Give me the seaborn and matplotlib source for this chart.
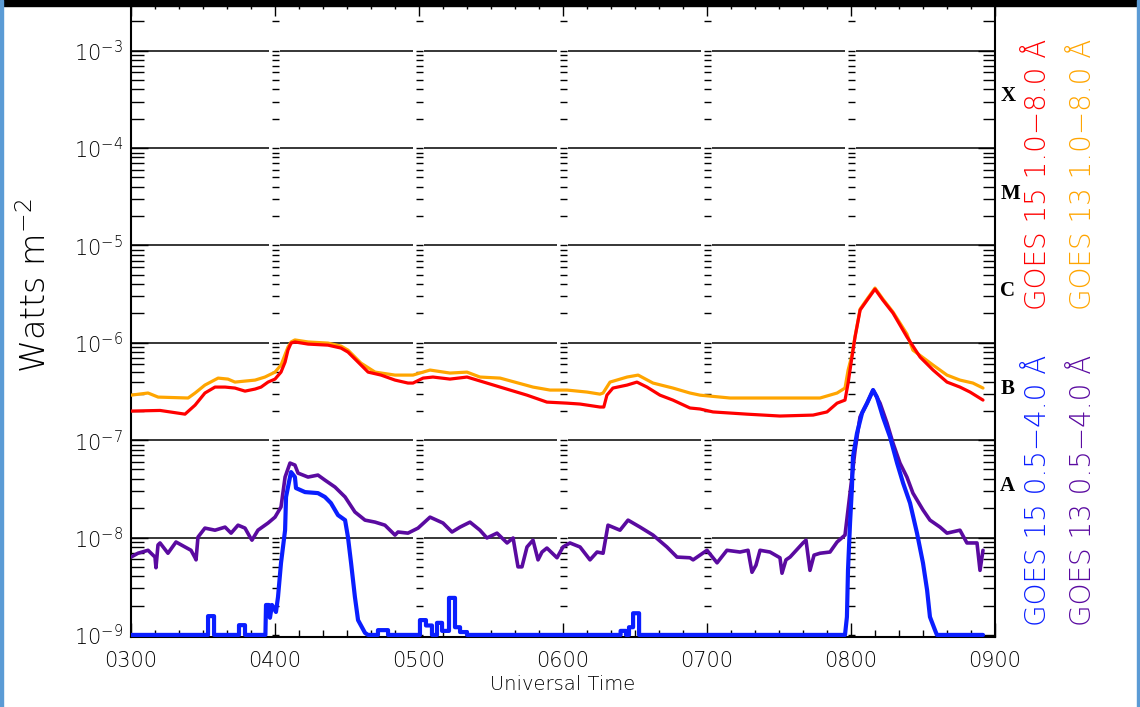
import numpy as np
import pandas as pd
import matplotlib
matplotlib.use("Agg")
import matplotlib.pyplot as plt
import matplotlib.transforms as mtransforms
from matplotlib.patches import Rectangle
from matplotlib.ticker import FuncFormatter, MultipleLocator, FixedLocator
import seaborn as sns

# ---------------- data (time = minutes after 03:00 UT, flux in W m^-2) ----------------
t_g15_long = [0, 12.1, 22.5, 26.7, 30.8, 35.0, 39.2, 43.3, 47.5, 51.7, 54.2, 57.1, 60.0, 62.5, 64.2,
              65.4, 66.7, 68.3, 73.8, 82.1, 87.5, 90.4, 94.6, 98.8, 104.2, 110.0, 115.4, 117.5, 121.7,
              125.8, 132.9, 140.0, 144.2, 153.8, 165.0, 173.3, 181.7, 187.1, 195.4, 197.0, 198.3, 200.8,
              206.7, 210.8, 215.0, 220.4, 225.8, 232.9, 237.1, 242.5, 256.7, 270.4, 284.2, 290.0, 294.2,
              297.5, 298.8, 300.4, 301.7, 303.8, 306.7, 310.0, 313.3, 317.5, 323.3, 328.8, 334.2, 340.0,
              345.4, 349.6, 355.0]
f_g15_long = [1.99e-7, 2.02e-7, 1.85e-7, 2.29e-7, 3.05e-7, 3.51e-7, 3.51e-7, 3.43e-7, 3.19e-7, 3.35e-7,
              3.51e-7, 3.95e-7, 4.24e-7, 5.0e-7, 6.34e-7, 8.41e-7, 9.93e-7, 1.02e-6, 9.7e-7, 9.46e-7,
              8.83e-7, 8.03e-7, 6.34e-7, 5.0e-7, 4.66e-7, 4.14e-7, 3.86e-7, 3.86e-7, 4.34e-7, 4.45e-7,
              4.24e-7, 4.45e-7, 4.14e-7, 3.51e-7, 2.90e-7, 2.46e-7, 2.40e-7, 2.35e-7, 2.19e-7, 2.19e-7,
              2.90e-7, 3.43e-7, 3.68e-7, 3.95e-7, 3.51e-7, 2.90e-7, 2.58e-7, 2.14e-7, 2.09e-7, 1.95e-7,
              1.85e-7, 1.77e-7, 1.81e-7, 1.95e-7, 2.40e-7, 2.58e-7, 3.86e-7, 7.13e-7, 1.15e-6, 2.17e-6,
              2.74e-6, 3.56e-6, 2.74e-6, 2.02e-6, 1.15e-6, 7.13e-7, 5.25e-7, 3.95e-7, 3.51e-7, 3.12e-7,
              2.58e-7]

t_g13_long = [0, 7.1, 11.3, 23.8, 26.7, 30.8, 36.3, 40.4, 43.3, 51.7, 55.8, 60.0, 62.5, 65.4, 66.7,
              68.3, 73.8, 82.1, 87.5, 90.4, 95.8, 101.7, 110.0, 117.5, 124.6, 132.9, 140.0, 145.4, 153.8,
              167.5, 174.6, 181.7, 190.0, 195.4, 196.7, 199.6, 206.7, 211.3, 217.5, 225.8, 232.9, 237.1,
              249.6, 263.3, 277.5, 287.1, 294.2, 297.5, 298.8, 300.4, 301.7, 303.8, 306.7, 310.0, 313.3,
              317.5, 323.3, 325.8, 334.2, 340.0, 345.4, 350.8, 355.0]
f_g13_long = [2.90e-7, 3.05e-7, 2.77e-7, 2.71e-7, 3.05e-7, 3.68e-7, 4.34e-7, 4.24e-7, 3.95e-7, 4.14e-7,
              4.45e-7, 5.0e-7, 5.90e-7, 9.03e-7, 1.02e-6, 1.07e-6, 1.02e-6, 9.93e-7, 9.25e-7, 8.41e-7,
              6.19e-7, 5.0e-7, 4.66e-7, 4.66e-7, 5.25e-7, 4.89e-7, 5.0e-7, 4.45e-7, 4.34e-7, 3.51e-7,
              3.27e-7, 3.27e-7, 3.12e-7, 2.97e-7, 3.05e-7, 3.95e-7, 4.45e-7, 4.66e-7, 3.86e-7, 3.43e-7,
              3.05e-7, 2.90e-7, 2.71e-7, 2.71e-7, 2.71e-7, 2.71e-7, 3.05e-7, 3.43e-7, 5.25e-7, 7.48e-7,
              1.17e-6, 2.22e-6, 2.81e-6, 3.65e-6, 2.81e-6, 2.07e-6, 1.23e-6, 8.41e-7, 5.90e-7, 4.66e-7,
              4.14e-7, 3.86e-7, 3.43e-7]

t_g15_short = [0, 32.1, 32.1, 34.6, 34.6, 45.0, 45.0, 47.5, 47.5, 56.0, 56.25, 57.5, 57.9, 58.75, 60.4,
               61.25, 62.5, 64.2, 64.6, 66.25, 66.7, 68.3, 68.75, 72.5, 77.9, 80.8, 83.3, 86.25, 89.2,
               90.4, 91.7, 93.3, 94.6, 97.5, 98.75, 102.9, 102.9, 107.1, 107.1, 120.4, 120.4, 122.9,
               122.9, 125.4, 125.4, 127.5, 127.5, 129.6, 129.6, 132.5, 132.5, 135.0, 135.0, 137.1, 137.1,
               140.0, 140.0, 204.0, 204.0, 206.25, 206.25, 207.5, 207.5, 209.2, 209.2, 211.7, 211.7,
               297.5, 298.3, 298.75, 299.6, 300.4, 300.8, 302.5, 304.6, 306.7, 309.2, 310.8, 313.3,
               316.25, 319.2, 321.7, 324.6, 327.5, 330.0, 331.7, 332.9, 335.0, 335.8, 355.0]
f_g15_short = [1e-9, 1e-9, 1.56e-9, 1.56e-9, 1e-9, 1e-9, 1.26e-9, 1.26e-9, 1e-9, 1e-9, 2.03e-9, 2.03e-9,
               1.5e-9, 2.03e-9, 1.72e-9, 2.45e-9, 5.47e-9, 1.19e-8, 2.61e-8, 4.18e-8, 4.70e-8, 4.18e-8,
               3.22e-8, 2.93e-8, 2.86e-8, 2.61e-8, 2.26e-8, 1.70e-8, 1.51e-8, 1.01e-8, 5.47e-9, 2.45e-9,
               1.42e-9, 1.05e-9, 1e-9, 1e-9, 1.12e-9, 1.12e-9, 1e-9, 1e-9, 1.42e-9, 1.42e-9, 1.25e-9,
               1.25e-9, 1e-9, 1e-9, 1.33e-9, 1.33e-9, 1.1e-9, 1.1e-9, 2.4e-9, 2.4e-9, 1.2e-9, 1.2e-9,
               1.07e-9, 1.07e-9, 1e-9, 1e-9, 1.1e-9, 1.1e-9, 1e-9, 1e-9, 1.2e-9, 1.2e-9, 1.67e-9, 1.67e-9,
               1e-9, 1e-9, 1.53e-9, 4.64e-9, 1.41e-8, 3.30e-8, 6.70e-8, 1.18e-7, 1.90e-7, 2.40e-7,
               3.27e-7, 2.77e-7, 1.73e-7, 1.08e-7, 5.82e-8, 3.63e-8, 2.26e-8, 1.11e-8, 5.47e-9, 2.89e-9,
               1.53e-9, 1.12e-9, 1e-9, 1e-9]

t_g13_short = [0, 2.9, 7.1, 10.0, 10.4, 11.25, 12.1, 15.4, 18.75, 22.5,
               25.0, 26.7, 27.1, 27.9, 30.8, 35.0, 39.2, 41.7, 44.6, 47.5,
               49.6, 50.4, 52.9, 57.1, 60.0, 62.5, 64.2, 66.25, 68.3, 69.6,
               73.75, 77.9, 80.8, 85.0, 89.2, 93.3, 97.5, 101.7, 105.8, 110.0,
               111.25, 115.4, 119.6, 124.6, 130.0, 133.75, 137.1, 141.25, 145.4, 148.3,
               152.5, 156.7, 159.2, 161.25, 162.9, 165.0, 167.5, 169.6, 171.25, 173.3,
               177.5, 180.0, 182.9, 187.1, 191.25, 194.2, 196.7, 198.75, 203.75, 207.1,
               212.1, 217.5, 223.3, 227.5, 232.9, 234.2, 240.0, 244.2, 248.3, 253.75,
               257.1, 258.75, 260.4, 262.1, 266.25, 270.4, 271.25, 272.9, 274.6, 280.0,
               281.25, 282.9, 284.6, 287.1, 291.25, 294.2, 297.5, 298.75, 300.4, 301.7,
               303.75, 306.7, 309.2, 312.1, 315.0, 317.5, 320.4, 323.3, 325.8, 330.0,
               332.9, 337.1, 340.0, 345.4, 348.3, 352.5, 353.75, 355.0]
f_g13_short = [6.3e-9, 6.9e-9, 7.4e-9, 6.3e-9, 4.9e-9, 8.4e-9, 8.8e-9, 6.9e-9, 9.0e-9, 8.0e-9,
               7.4e-9, 6.2e-9, 5.9e-9, 1.01e-8, 1.25e-8, 1.19e-8, 1.28e-8, 1.11e-8, 1.34e-8, 1.25e-8,
               1.01e-8, 9.4e-9, 1.19e-8, 1.41e-8, 1.62e-8, 2.06e-8, 4.18e-8, 5.82e-8, 5.55e-8, 4.59e-8,
               4.18e-8, 4.38e-8, 3.89e-8, 3.30e-8, 2.61e-8, 1.83e-8, 1.51e-8, 1.44e-8, 1.34e-8, 1.06e-8,
               1.14e-8, 1.11e-8, 1.25e-8, 1.62e-8, 1.41e-8, 1.14e-8, 1.28e-8, 1.44e-8, 1.19e-8, 9.9e-9,
               1.11e-8, 8.8e-9, 9.9e-9, 5.0e-9, 5.0e-9, 8.0e-9, 9.4e-9, 5.9e-9, 7.1e-9, 7.8e-9,
               6.2e-9, 8.0e-9, 8.8e-9, 8.0e-9, 5.9e-9, 7.1e-9, 6.9e-9, 1.34e-8, 1.19e-8, 1.51e-8,
               1.28e-8, 1.06e-8, 8.0e-9, 6.3e-9, 6.2e-9, 5.9e-9, 7.4e-9, 5.5e-9, 7.4e-9, 7.1e-9,
               7.4e-9, 4.4e-9, 5.2e-9, 7.4e-9, 7.1e-9, 6.2e-9, 4.3e-9, 5.9e-9, 6.3e-9, 8.8e-9,
               9.4e-9, 4.6e-9, 6.6e-9, 6.9e-9, 7.1e-9, 9.0e-9, 1.06e-8, 1.92e-8, 4.18e-8, 7.91e-8,
               1.73e-7, 2.40e-7, 3.27e-7, 2.40e-7, 1.50e-7, 9.33e-8, 5.82e-8, 4.18e-8, 2.86e-8, 1.92e-8,
               1.51e-8, 1.28e-8, 1.11e-8, 1.19e-8, 8.8e-9, 8.8e-9, 4.6e-9, 7.4e-9]

series_labels = ["GOES 15 1.0\u22128.0 \u00c5", "GOES 13 1.0\u22128.0 \u00c5",
                 "GOES 15 0.5\u22124.0 \u00c5", "GOES 13 0.5\u22124.0 \u00c5"]
series_colors = ["#ff0000", "#ffa500", "#0a1eff", "#5a0aa0"]

hour_ticks = [3, 4, 5, 6, 7, 8, 9]
hour_labels = ["0300", "0400", "0500", "0600", "0700", "0800", "0900"]
class_names = ["A", "B", "C", "M", "X"]
class_lower = [1e-8, 1e-7, 1e-6, 1e-5, 1e-4]

# ---------------- build frame ----------------
frames = []
for name, t, f in [(series_labels[0], t_g15_long, f_g15_long),
                   (series_labels[1], t_g13_long, f_g13_long),
                   (series_labels[2], t_g15_short, f_g15_short),
                   (series_labels[3], t_g13_short, f_g13_short)]:
    frames.append(pd.DataFrame({"series": name, "hour": 3 + np.asarray(t, float) / 60.0,
                                "flux": np.asarray(f, float)}))
df = pd.concat(frames, ignore_index=True)

sns.set_style("white")
plt.rcParams["font.family"] = ["DejaVu Sans"]
plt.rcParams["font.weight"] = "light"
plt.rcParams["text.color"] = "black"
plt.rcParams["axes.labelcolor"] = "black"
plt.rcParams["xtick.color"] = "black"
plt.rcParams["ytick.color"] = "black"
plt.rcParams["mathtext.fontset"] = "custom"
plt.rcParams["mathtext.rm"] = "DejaVu Sans:light"
plt.rcParams["mathtext.it"] = "DejaVu Sans:light"
plt.rcParams["mathtext.default"] = "rm"

W, H = 1140, 707
fig = plt.figure(figsize=(W / 100, H / 100), dpi=100)
ax = fig.add_axes([131 / W, 70 / H, 864 / W, 635 / H])

ymin, ymax = 0.952e-9, 10 ** -2.5
ax.set_yscale("log")
ax.set_xlim(3, 9)
ax.set_ylim(ymin, ymax)

# gridlines at decades, broken at each hour
decades = [1e-8, 1e-7, 1e-6, 1e-5, 1e-4, 1e-3]
for h in range(3, 9):
    x0 = h + (0.035 if h > 3 else 0)
    x1 = h + 1 - (0.042 if h + 1 < 9 else 0)
    ax.hlines(decades, x0, x1, colors="black", lw=1.1, zorder=1)

# tick dashes at each interior hour
major_vals = [10.0 ** k for k in range(-9, -2)]
minor_vals = [m * 10.0 ** k for k in range(-9, -2) for m in range(2, 10)]
minor_vals = [v for v in minor_vals if ymin <= v <= ymax]
for h in range(4, 9):
    ax.hlines(major_vals + minor_vals, h - 0.023, h + 0.030, colors="black", lw=1.0, zorder=1)

# data lines (drawing order: orange, red, purple, blue)
widths = [2.3, 2.3, 3.0, 2.6]
for idx in [1, 0, 3, 2]:
    name = series_labels[idx]
    sub = df[df["series"] == name].reset_index(drop=True)
    sns.lineplot(data=sub, x="hour", y="flux", ax=ax, color=series_colors[idx],
                 lw=widths[idx], estimator=None, sort=False, legend=False, zorder=3)

# axes ticks
ax.xaxis.set_major_locator(FixedLocator(hour_ticks))
ax.set_xticklabels(hour_labels)
ax.xaxis.set_minor_locator(MultipleLocator(1 / 6))
ax.yaxis.set_major_locator(FixedLocator(major_vals))
ax.yaxis.set_minor_locator(FixedLocator(minor_vals))
ax.yaxis.set_major_formatter(FuncFormatter(lambda v, p: r"$10^{%d}$" % int(round(np.log10(v)))))
ax.tick_params(axis="y", which="both", direction="in", left=True, right=True, labelsize=15,
               pad=6, width=1.0, colors="black", labelcolor="black")
ax.tick_params(axis="y", which="major", length=12)
ax.tick_params(axis="y", which="minor", length=9)
ax.tick_params(axis="x", which="both", direction="in", bottom=True, top=True, labelsize=15,
               pad=10, width=1.0, colors="black", labelcolor="black")
ax.tick_params(axis="x", which="major", length=10)
ax.tick_params(axis="x", which="minor", length=5)
for s in ax.spines.values():
    s.set_color("black")
    s.set_linewidth(1.5)

ax.set_xlabel("Universal Time", fontsize=14, labelpad=3, fontweight="light", color="black")
ax.set_ylabel("Watts m$^{-2}$", fontsize=24, va="center", ha="center", fontweight="light",
              color="black")
ax.yaxis.set_label_coords(-0.110, 0.553)

# flare classes on the right
trans = mtransforms.blended_transform_factory(ax.transAxes, ax.transData)
for name, lo in zip(class_names, class_lower):
    ax.text(1.006, lo * 10 ** 0.53, name, transform=trans, ha="left", va="center",
            fontfamily="Liberation Serif", fontweight="bold", fontsize=15, color="black")

# channel labels
label_pos = [(1038, 174), (1083, 174), (1038, 490), (1083, 490)]
for name, col, (px, py) in zip(series_labels, series_colors, label_pos):
    fig.text(px / W, 1 - py / H, name, color=col, rotation=90, ha="center", va="center",
             fontsize=20, fontweight="light")

# screenshot frame: black top bar and blue side borders
fig.add_artist(Rectangle((0, 1 - 6 / H), 1, 6 / H, transform=fig.transFigure, color="black", zorder=20))
fig.add_artist(Rectangle((0, 0), 2.5 / W, 1, transform=fig.transFigure, color="#5b9bd5", zorder=21))
fig.add_artist(Rectangle((1 - 3.5 / W, 0), 3.5 / W, 1, transform=fig.transFigure, color="#5b9bd5", zorder=21))

fig.savefig("out.png", dpi=100)
